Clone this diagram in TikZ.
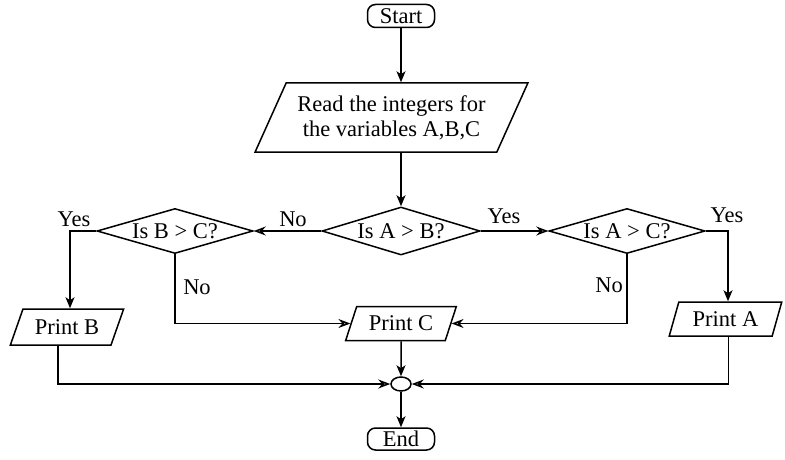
\documentclass[tikz,border=0pt]{standalone}
\usepackage{fontspec}
\setmainfont{Liberation Serif}
\usetikzlibrary{shapes.geometric,arrows.meta}
\tikzset{
  base/.style={draw, line width=1.5pt, inner sep=0pt, font=\fontsize{22.5}{25}\selectfont},
  term/.style={base, rectangle, rounded corners=8pt, minimum width=67pt, minimum height=23pt},
  io/.style={base, trapezium, trapezium stretches=true, align=center},
  dec/.style={base, diamond, aspect=3.4},
  joinpt/.style={draw, line width=1.5pt, ellipse, inner sep=0pt, minimum width=20pt, minimum height=14pt},
  lbl/.style={inner sep=0pt, font=\fontsize{22.5}{25}\selectfont},
  arrV/.style={line width=1.5pt, -{Stealth[length=11pt, width=9pt, inset=3pt]}},
  arrH/.style={line width=1.5pt, -{Stealth[open, length=12pt, width=9pt, inset=4pt]}}
}
\begin{document}
\begin{tikzpicture}[x=1pt, y=-1pt]
\fill[white] (0,0) rectangle (785,460);
\useasboundingbox (0,0) rectangle (785,460);

\node[term] (start) at (401,16) {Start};
\node[io, trapezium left angle=58, trapezium right angle=122, minimum width=273pt, minimum height=69pt] (read) at (391.5,117.5) {Read the integers for\\the variables A,B,C};
\node[dec, minimum width=158pt, minimum height=48pt] (ab) at (401,231) {Is A > B?};
\node[dec, minimum width=156pt, minimum height=45pt] (bc) at (175,231) {Is B > C?};
\node[dec, minimum width=156pt, minimum height=45pt] (ac) at (627,231) {Is A > C?};
\node[io, trapezium left angle=58.6, trapezium right angle=121.4, minimum width=114pt, minimum height=36pt] (pb) at (67,327) {Print B};
\node[io, trapezium left angle=62, trapezium right angle=118, minimum width=111pt, minimum height=34pt] (pc) at (401,323.5) {Print C};
\node[io, trapezium left angle=66, trapezium right angle=114, minimum width=113pt, minimum height=34pt] (pa) at (725.5,319) {Print A};
\node[joinpt] (join) at (401,384) {};
\node[term, minimum height=22pt] (end) at (401,439) {End};

\node[lbl] (yes1) at (74,219) {Yes};
\node[lbl] (no1) at (293,219) {No};
\node[lbl] (no2) at (197,287) {No};
\node[lbl] (yes2) at (504,216) {Yes};
\node[lbl] (yes3) at (727,215) {Yes};
\node[lbl] (no3) at (609,285) {No};

\draw[arrV] (start.south) -- (start |- read.north);
\draw[arrV] (ab |- read.south) -- (ab.north);
\draw[arrH] (ab.west) -- (bc.east);
\draw[arrH] (ab.east) -- (ac.west);
\draw[arrV] (bc.west) -| ([xshift=3pt]pb.north);
\draw[arrH] (bc.south) |- (pc.left side);
\draw[arrH] (ac.south) |- (pc.right side);
\draw[arrV] (ac.east) -| ([xshift=2.5pt]pa.north);
\draw[arrV] (pc.south) -- (join.north);
\draw[arrH] ([xshift=-9pt]pb.south) |- (join.west);
\draw[arrH] ([xshift=3pt]pa.south) |- (join.east);
\draw[arrV] (join.south) -- (end.north);
\end{tikzpicture}
\end{document}
